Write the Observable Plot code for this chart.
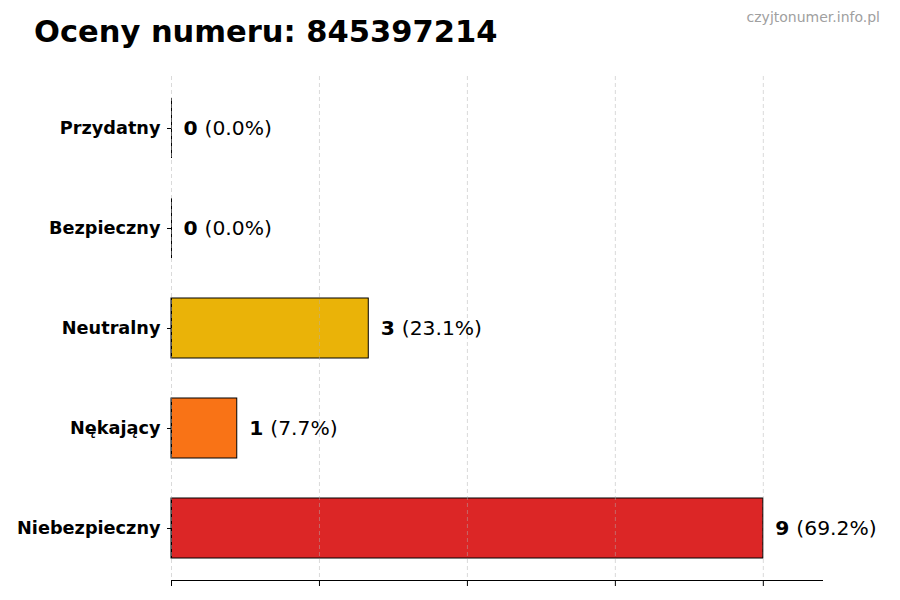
<!DOCTYPE html>
<html>
<head>
<meta charset="utf-8">
<script src="https://cdn.jsdelivr.net/npm/d3@7"></script>
<script src="https://cdn.jsdelivr.net/npm/@observablehq/plot@0.6"></script>
<style>
  html, body { margin: 0; padding: 0; background: #fff; }
  body { width: 900px; height: 600px; overflow: hidden; font-family: "DejaVu Sans", sans-serif; }
  #header { position: relative; height: 60px; }
  #title { position: absolute; left: 34px; top: 17px; font-size: 30.5px; line-height: 30px; font-weight: bold; color: #000; white-space: nowrap; }
  #source { position: absolute; right: 20px; top: 10px; font-size: 14px; line-height: 14px; color: #a0a0a0; white-space: nowrap; }
</style>
</head>
<body>
<div id="header">
  <div id="title">Oceny numeru: 845397214</div>
  <div id="source">czyjtonumer.info.pl</div>
</div>
<div id="chart"></div>
<script>
const categories = ["Przydatny", "Bezpieczny", "Neutralny", "Nękający", "Niebezpieczny"];
const counts = [0, 0, 3, 1, 9];
const percents = ["0.0%", "0.0%", "23.1%", "7.7%", "69.2%"];
const colors = ["#16a34a", "#2563eb", "#eab308", "#f97316", "#dc2626"];
const xTicks = [0, 2.25, 4.5, 6.75, 9];
const xMax = 9.9;

const data = categories.map((c, i) => ({label: c, value: counts[i], pct: percents[i], color: colors[i]}));

const chart = Plot.plot({
  width: 900,
  height: 540,
  marginTop: 16,
  marginBottom: 20,
  marginLeft: 171,
  marginRight: 78,
  style: {fontFamily: "DejaVu Sans, sans-serif", background: "#fff", color: "#000"},
  x: {domain: [0, xMax], axis: null},
  y: {domain: categories, paddingInner: 0.4, paddingOuter: 0.2, axis: null},
  marks: [
    Plot.barX(data, {x: "value", y: "label", fill: "color", stroke: "#000", strokeWidth: 1}),
    Plot.tickX(data, {x: () => 0, y: "label", stroke: "#000", strokeWidth: 1}),
    Plot.gridX(xTicks, {stroke: "#b0b0b0", strokeOpacity: 0.6, strokeDasharray: "4,3", strokeWidth: 0.8}),
    Plot.frame({anchor: "bottom", stroke: "#000", strokeWidth: 1}),
    Plot.axisX({ticks: xTicks, tickFormat: () => "", tickSize: 6, stroke: "#000", label: null}),
    Plot.axisY({tickSize: 4, tickPadding: 7, fontSize: 17.7, fontWeight: "bold", label: null, stroke: "#000"}),
    Plot.text(data, {x: "value", y: "label", text: d => String(d.value), dx: 12, textAnchor: "start", fontWeight: "bold", fontSize: 20.3, fill: "#000"}),
    Plot.text(data, {x: "value", y: "label", text: d => `(${d.pct})`, dx: 33, textAnchor: "start", fontSize: 20.3, fill: "#000"})
  ]
});
document.getElementById("chart").appendChild(chart);
</script>
</body>
</html>
